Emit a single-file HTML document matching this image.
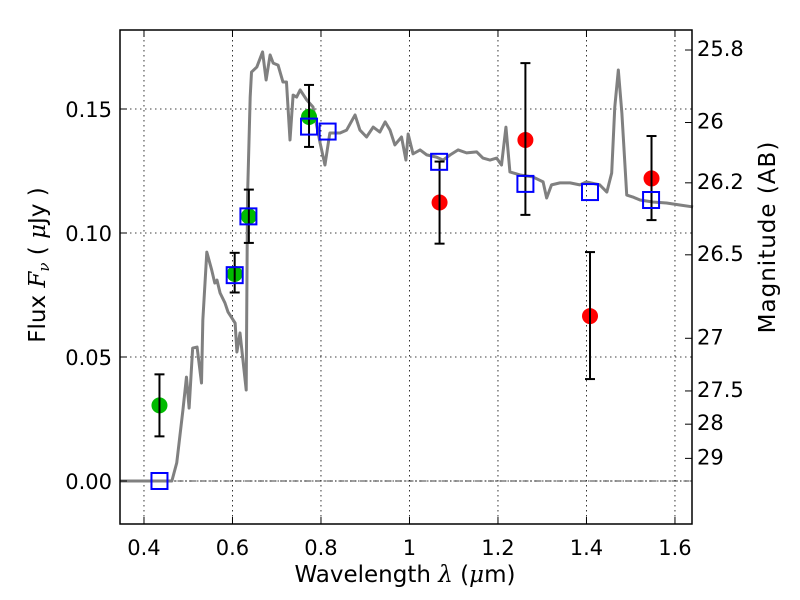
<!DOCTYPE html>
<html><head><meta charset="utf-8"><style>
body{margin:0;background:#fff}
svg{display:block;font-family:"DejaVu Sans","Liberation Sans",sans-serif}
</style></head><body>
<svg id="chart" width="800" height="600" viewBox="0 0 800 600">
<g id="grid"></g>
<g id="marks"></g>
<rect x="120" y="30" width="572" height="494" fill="none" stroke="#000" stroke-width="1.5"/>
<g id="axes"></g>
<text x="405" y="582" font-size="23" text-anchor="middle">Wavelength  <tspan font-family="DejaVu Serif" font-style="italic">λ</tspan> (<tspan font-family="DejaVu Serif" font-style="italic">μ</tspan>m)</text>
<text transform="translate(45,265) rotate(-90)" font-size="23" text-anchor="middle">Flux  <tspan font-family="DejaVu Serif" font-style="italic">F</tspan><tspan font-family="DejaVu Serif" font-style="italic" font-size="15" dy="4">ν</tspan><tspan dy="-4">  (  </tspan><tspan font-family="DejaVu Serif" font-style="italic">μ</tspan>Jy )</text>
<text transform="translate(775,237) rotate(-90)" font-size="23" letter-spacing="1" text-anchor="middle">Magnitude (AB)</text>
</svg>
<script>
const specWave=[0.346,0.463,0.474,0.488,0.496,0.502,0.510,0.520,0.530,0.533,0.542,0.553,0.560,0.565,0.572,0.583,0.590,0.606,0.610,0.617,0.631,0.634,0.640,0.643,0.655,0.668,0.676,0.685,0.692,0.703,0.714,0.722,0.730,0.737,0.745,0.753,0.768,0.782,0.798,0.809,0.820,0.843,0.858,0.877,0.888,0.903,0.918,0.933,0.945,0.956,0.967,0.982,0.992,0.997,1.008,1.024,1.039,1.061,1.076,1.092,1.110,1.129,1.152,1.166,1.182,1.197,1.208,1.218,1.227,1.250,1.279,1.302,1.310,1.321,1.340,1.363,1.385,1.400,1.430,1.446,1.457,1.464,1.472,1.480,1.491,1.505,1.521,1.550,1.581,1.611,1.641];
const specFlux=[0,0,0.0073,0.0286,0.0419,0.0294,0.0536,0.0540,0.0395,0.0649,0.0923,0.0851,0.0798,0.0810,0.0758,0.0718,0.0681,0.0637,0.0520,0.0597,0.0367,0.1145,0.1548,0.1649,0.1669,0.1730,0.1617,0.1718,0.1685,0.1677,0.1609,0.1609,0.1375,0.1556,0.1548,0.1577,0.1536,0.1508,0.1363,0.1274,0.1403,0.1403,0.1415,0.1476,0.1415,0.1387,0.1427,0.1407,0.1448,0.1415,0.1355,0.1387,0.1294,0.1399,0.1319,0.1335,0.1315,0.1306,0.1294,0.1315,0.1335,0.1323,0.1327,0.1302,0.1294,0.1302,0.1274,0.1427,0.1246,0.1234,0.1226,0.1206,0.1141,0.1194,0.1202,0.1202,0.1194,0.1206,0.1194,0.1165,0.1242,0.1508,0.1657,0.1484,0.1153,0.1145,0.1133,0.1125,0.1121,0.1113,0.1105];
const greenWave=[0.435,0.605,0.637,0.773];
const greenFlux=[0.0305,0.0835,0.1067,0.1468];
const greenLo=[0.018,0.076,0.096,0.1347];
const greenHi=[0.043,0.092,0.1175,0.1597];
const redWave=[1.068,1.262,1.408,1.547];
const redFlux=[0.1123,0.1375,0.0665,0.122];
const redLo=[0.0957,0.1073,0.0411,0.1052];
const redHi=[0.1288,0.1685,0.0923,0.1391];
const modelWave=[0.435,0.605,0.636,0.773,0.815,1.067,1.262,1.408,1.546];
const modelFlux=[0.0,0.083,0.1067,0.1429,0.1409,0.1287,0.1198,0.1165,0.1133];
const xTicks=[0.4,0.6,0.8,1.0,1.2,1.4,1.6];
const xTickLabels=["0.4","0.6","0.8","1","1.2","1.4","1.6"];
const yTicks=[0,0.05,0.10,0.15];
const yTickLabels=["0.00","0.05","0.10","0.15"];
const magTicks=[25.8,26,26.2,26.5,27,27.5,28,29];
const magTickLabels=["25.8","26","26.2","26.5","27","27.5","28","29"];

const X0=120,X1=692,Y0=30,Y1=524,xmin=0.3458,xmax=1.6385,ymin=-0.01734,ymax=0.18185;
const sx=v=>X0+(v-xmin)/(xmax-xmin)*(X1-X0);
const sy=v=>Y1-(v-ymin)/(ymax-ymin)*(Y1-Y0);
const NS="http://www.w3.org/2000/svg";
function mk(tag,attrs,parent){const e=document.createElementNS(NS,tag);for(const k in attrs)e.setAttribute(k,attrs[k]);parent.appendChild(e);return e;}
const grid=document.getElementById('grid'),marks=document.getElementById('marks'),axes=document.getElementById('axes');

xTicks.forEach((t,i)=>{
  const x=sx(t);
  const g=mk('line',{x1:x,x2:x,y1:Y0,y2:Y1,stroke:'#000','stroke-width':0.8,'stroke-dasharray':'1.5,3.5'},grid);
  
  
  mk('line',{x1:x,x2:x,y1:Y1,y2:Y1-7,stroke:'#000','stroke-width':1},axes);
  mk('line',{x1:x,x2:x,y1:Y0,y2:Y0+7,stroke:'#000','stroke-width':1},axes);
  const tx=mk('text',{x:x,y:555,'font-size':21,'text-anchor':'middle'},axes);
  tx.textContent=xTickLabels[i];
  
  
});
yTicks.forEach((t,i)=>{
  const y=sy(t);
  const g=mk('line',{x1:X0,x2:X1,y1:y,y2:y,stroke:'#000','stroke-width':0.8,'stroke-dasharray':'1.5,3.5'},grid);
  
  
  mk('line',{x1:X0,x2:X0+7,y1:y,y2:y,stroke:'#000','stroke-width':1},axes);
  const tx=mk('text',{x:112,y:y+8,'font-size':21,'text-anchor':'end'},axes);
  tx.textContent=yTickLabels[i];
  
  
});
magTicks.forEach((m,i)=>{
  const y=sy(Math.pow(10,(23.9-m)/2.5));
  mk('line',{x1:X1,x2:X1-7,y1:y,y2:y,stroke:'#000','stroke-width':1},axes);
  const tx=mk('text',{x:697,y:y+6,'font-size':21},axes);
  tx.textContent=magTickLabels[i];
  
  
});
const zl=mk('line',{x1:X0,x2:X1,y1:sy(0),y2:sy(0),stroke:'#000','stroke-width':0.8,'stroke-dasharray':'6,2,1.5,2'},marks);



const sp=mk('polyline',{points:specWave.map((w,i)=>sx(w)+','+sy(specFlux[i])).join(' '),fill:'none',stroke:'#808080','stroke-width':3,'stroke-linejoin':'round'},marks);



function errbars(ws,lo,hi,name){
  ws.forEach((w,i)=>{
    const x=sx(w),a=sy(lo[i]),b=sy(hi[i]);
    const g=mk('g',{stroke:'#000','stroke-width':2},marks);
    
    
    mk('line',{x1:x,x2:x,y1:a,y2:b},g);
    mk('line',{x1:x-5,x2:x+5,y1:a,y2:a},g);
    mk('line',{x1:x-5,x2:x+5,y1:b,y2:b},g);
  });
}
greenWave.forEach((w,i)=>{
  const c=mk('circle',{cx:sx(w),cy:sy(greenFlux[i]),r:8,fill:'#00bb00'},marks);
  
  
});
errbars(greenWave,greenLo,greenHi,'optical-error-bar');
redWave.forEach((w,i)=>{
  const c=mk('circle',{cx:sx(w),cy:sy(redFlux[i]),r:8,fill:'#ff0000'},marks);
  
  
});
errbars(redWave,redLo,redHi,'nir-error-bar');
modelWave.forEach((w,i)=>{
  const r=mk('rect',{x:sx(w)-8,y:sy(modelFlux[i])-8,width:16,height:16,fill:'none',stroke:'#0000ff','stroke-width':2},marks);
  
  
});
</script>
</body></html>
